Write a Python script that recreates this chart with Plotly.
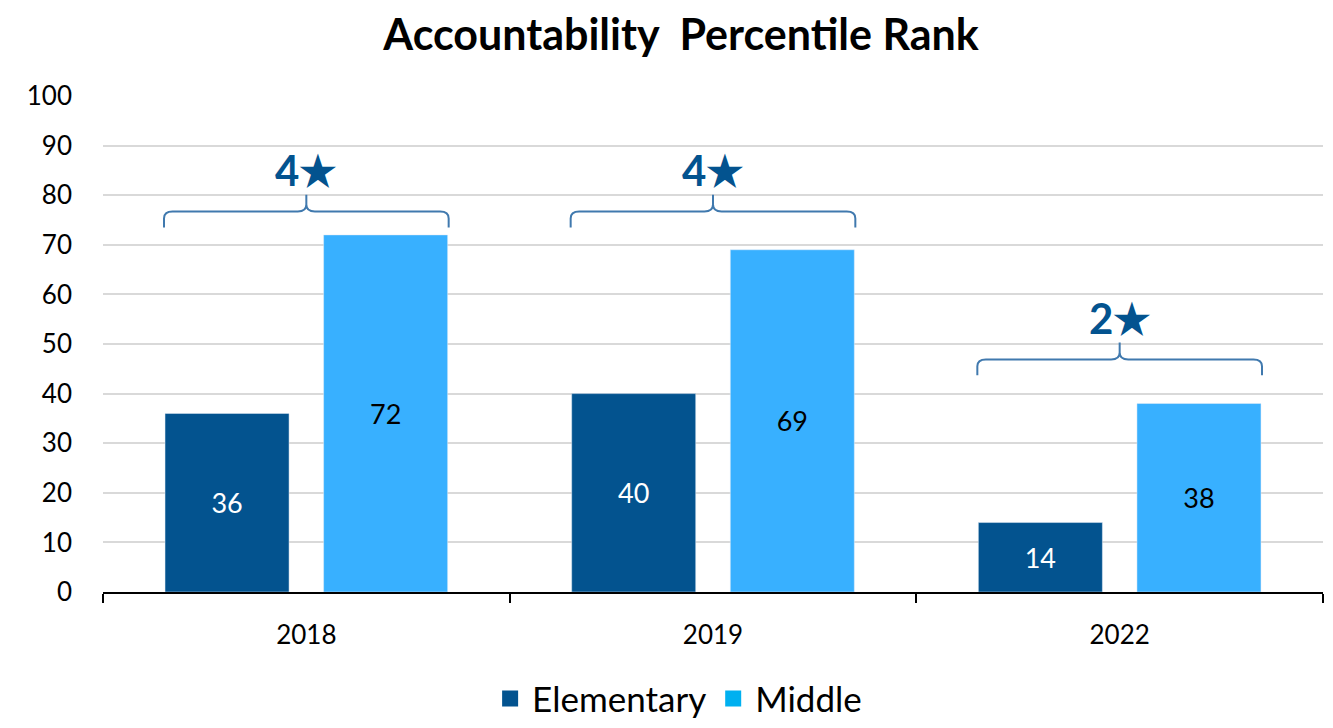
import plotly.graph_objects as go

years = ["2018", "2019", "2022"]
elementary = [36, 40, 14]
middle = [72, 69, 38]
star_labels = ["4★", "4★", "2★"]
brace_levels = [73.5, 73.5, 43.7]

DARK = "#03538F"
LIGHT = "#38B0FF"
LIGHT_KEY = "#00B0F0"
BRACE = "#4079AE"
FONT = "Lato"

fig = go.Figure()

fig.add_trace(go.Bar(
    x=years, y=elementary, name="Elementary",
    marker_color=DARK, text=elementary,
    textposition="inside", insidetextanchor="middle",
    textfont={"color": "white", "size": 27, "family": FONT},
    showlegend=False,
))
fig.add_trace(go.Bar(
    x=years, y=middle, name="Middle",
    marker_color=LIGHT, text=middle,
    textposition="inside", insidetextanchor="middle",
    textfont={"color": "black", "size": 27, "family": FONT},
    showlegend=False,
))

# legend keys only (swatches are a different shade than the bars)
for name, color in [("Elementary", DARK), ("Middle", LIGHT_KEY)]:
    fig.add_trace(go.Scatter(
        x=[None], y=[None], name=name, mode="markers",
        marker={"symbol": "square", "size": 20, "color": color},
    ))


def px(cat_pos):
    """category position (index units) -> paper x"""
    return (cat_pos + 0.5) / len(years)


half = 0.35
for i, (lbl, yb) in enumerate(zip(star_labels, brace_levels)):
    xl, xc, xr = px(i - half), px(i), px(i + half)
    r = 0.007
    yt = yb + 3.2
    tip = yt + 3.4
    path = (
        f"M {xl},{yb} L {xl},{yt - 1.4} Q {xl},{yt} {xl + r},{yt} "
        f"L {xc - r},{yt} Q {xc},{yt} {xc},{yt + 1.4} L {xc},{tip} "
        f"M {xc},{yt + 1.4} Q {xc},{yt} {xc + r},{yt} "
        f"L {xr - r},{yt} Q {xr},{yt} {xr},{yt - 1.4} L {xr},{yb}"
    )
    fig.add_shape(type="path", path=path, xref="paper", yref="y",
                  line={"color": BRACE, "width": 2})
    fig.add_annotation(
        x=xc, y=tip - 0.5, xref="paper", yref="y", text=f"<b>{lbl}</b>",
        showarrow=False, yanchor="bottom", xanchor="center",
        font={"size": 42, "color": DARK, "family": FONT},
    )

# page body adds an 8px margin, so the figure is a bit smaller than the window
fig.update_layout(
    width=1325, height=720,
    title={"text": "<b>Accountability  Percentile Rank</b>",
           "x": 0.508, "xref": "container", "xanchor": "center",
           "y": 0.962, "yref": "container", "yanchor": "middle",
           "font": {"size": 43, "color": "black", "family": FONT}},
    barmode="group", bargap=0.22, bargroupgap=0.218,
    margin={"l": 95, "r": 10, "t": 88, "b": 136, "autoexpand": False},
    plot_bgcolor="white", paper_bgcolor="white",
    font={"family": FONT, "color": "black"},
    xaxis={"showline": True, "linecolor": "black", "linewidth": 2,
           "ticks": "outside", "tickson": "boundaries", "ticklen": 9,
           "tickwidth": 2, "tickcolor": "black", "automargin": False,
           "tickfont": {"size": 26}, "ticklabelstandoff": 19},
    yaxis={"range": [0, 100], "dtick": 10, "showgrid": True,
           "gridcolor": "#D9D9D9", "gridwidth": 1.5, "zeroline": False,
           "showline": False, "tickfont": {"size": 26},
           "automargin": False, "ticklabelstandoff": 30},
    legend={"orientation": "h", "x": 0.471, "xanchor": "center",
            "y": -0.215, "yanchor": "middle",
            "font": {"size": 35}, "itemwidth": 34},
)

fig.write_html("out.html")
